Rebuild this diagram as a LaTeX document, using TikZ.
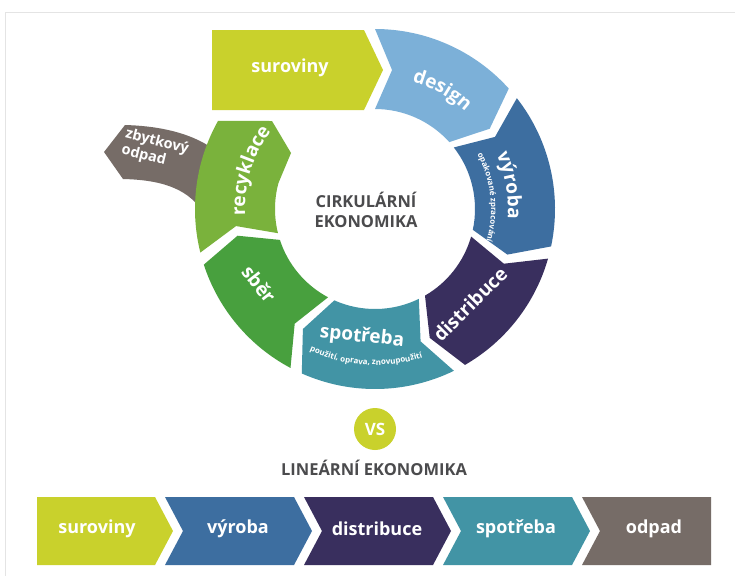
\documentclass[tikz,border=0pt]{standalone}
\usepackage{fontspec}
\setmainfont{Open Sans}
\usetikzlibrary{calc,decorations.text}
\definecolor{cLime}{RGB}{201,209,44}
\definecolor{cDesign}{RGB}{124,176,216}
\definecolor{cVyroba}{RGB}{61,110,160}
\definecolor{cDistr}{RGB}{57,47,94}
\definecolor{cSpot}{RGB}{66,148,165}
\definecolor{cSber}{RGB}{72,160,62}
\definecolor{cRecy}{RGB}{122,178,60}
\definecolor{cOdpad}{RGB}{118,108,103}
\definecolor{cText}{RGB}{75,75,77}
\definecolor{cFrame}{RGB}{228,228,228}
\def\Ro{180}\def\Ri{100}\def\Rm{140}\def\Dl{7}
\newcommand{\ringseg}[3]{%
  \fill[#1] ($(C)+(#2:\Ro)$) arc[start angle=#2, end angle=#3, radius=\Ro]
    -- ($(C)+({#3-\Dl}:\Rm)$) -- ($(C)+(#3:\Ri)$)
    arc[start angle=#3, end angle=#2, radius=\Ri]
    -- ($(C)+({#2-\Dl}:\Rm)$) -- cycle;}
\newcommand{\arclabel}[5]{%
  \path[decorate, decoration={text along path, text align=center, text color=white,
    text={|#4|#5}}] ($(C)+(#1:#3)$) arc[start angle=#1, end angle=#2, radius=#3];}
\newcommand{\bigf}{\fontsize{19}{19}\selectfont\bfseries}
\newcommand{\smallf}{\fontsize{8}{8}\selectfont\bfseries}
\tikzset{
  lbl/.style={text=white, font=\bfseries\fontsize{18}{18}\selectfont, inner sep=0pt},
  ringlbl/.style={text=white, font=\bigf, inner sep=0pt},
  title/.style={text=cText, font=\bfseries\fontsize{16.5}{20}\selectfont, align=center, inner sep=0pt}
}
\begin{document}
\begin{tikzpicture}[x=1pt,y=1pt]
\useasboundingbox (0,0) rectangle (735,-576);
\fill[white] (0,0) rectangle (735,-576);
\draw[cFrame, line width=1.2pt] (5.5,-576) -- (5.5,-12.5) -- (735,-12.5);
\coordinate (C) at (375,-209);

% top raw material arrow
\fill[cLime] (212,-30) -- (364,-30) -- (383,-70) -- (364,-110) -- (212,-110) -- cycle;
\node[lbl] (sur1) at (290,-68) {suroviny};

% ring segments
\ringseg{cDesign}{90}{42}
\ringseg{cVyroba}{38}{-12}
\ringseg{cDistr}{-16}{-60}
\ringseg{cSpot}{-64}{-114}
\ringseg{cSber}{-118}{-162}

% residual waste branch
\fill[cOdpad] (104,-152) -- (125,-125) .. controls (160,-126) and (190,-133) .. (212,-148)
  -- (222,-215) -- (205,-215) .. controls (190,-190) and (165,-180) .. (123,-179) -- cycle;
\node[text=white, font=\bfseries\fontsize{14.5}{16.5}\selectfont, align=left, rotate=-14, inner sep=0pt] (zbyt) at (155,-150) {zbytkový\\odpad};

% recycling segment
\fill[cRecy] ($(C)+(-166:\Ro)$) arc[start angle=-166, end angle=-209.3, radius=\Ro]
  -- (272,-121) -- (291,-153) -- ($(C)+(-195:\Ri)$)
  arc[start angle=-195, end angle=-166, radius=\Ri] -- ($(C)+(-173:\Rm)$) -- cycle;

% ring labels
\arclabel{95}{26}{133}{\bigf}{design}
\arclabel{45}{-25}{133}{\bigf}{výroba}
\arclabel{52}{-40}{116}{\smallf}{opakované zpracování}
\arclabel{198}{128}{130}{\bigf}{recyklace}
\arclabel{-135}{-52}{156}{\smallf}{použití, oprava, znovupoužití}
\node[ringlbl, rotate=45] (distr) at (470,-304) {distribuce};
\node[ringlbl, rotate=-6] (spot) at (362,-337) {spotřeba};
\node[ringlbl, rotate=-52] (sber) at (259,-284) {sběr};

\node[title] (circ) at (366,-210) {CIRKULÁRNÍ\\EKONOMIKA};

% VS
\node[circle, fill=cLime, minimum size=42pt, inner sep=0pt, text=white, font=\bfseries\fontsize{17}{17}\selectfont] (vs) at (375,-429) {VS};
\node[title] (lin) at (374,-468) {LINEÁRNÍ EKONOMIKA};

% linear chain
\fill[cLime] (37,-497) -- (155,-497) -- (173,-531) -- (155,-565) -- (37,-565) -- cycle;
\fill[cVyroba] (165,-497) -- (294,-497) -- (312,-531) -- (294,-565) -- (165,-565) -- (183,-531) -- cycle;
\fill[cDistr] (304,-497) -- (433,-497) -- (451,-531) -- (433,-565) -- (304,-565) -- (322,-531) -- cycle;
\fill[cSpot] (443,-497) -- (572,-497) -- (590,-531) -- (572,-565) -- (443,-565) -- (461,-531) -- cycle;
\fill[cOdpad] (582,-497) -- (711,-497) -- (711,-565) -- (582,-565) -- (600,-531) -- cycle;
\node[lbl] (l1) at (97,-529) {suroviny};
\node[lbl] (l2) at (238,-529) {výroba};
\node[lbl] (l3) at (377,-529) {distribuce};
\node[lbl] (l4) at (516,-529) {spotřeba};
\node[lbl] (l5) at (654,-529) {odpad};
\end{tikzpicture}
\end{document}
